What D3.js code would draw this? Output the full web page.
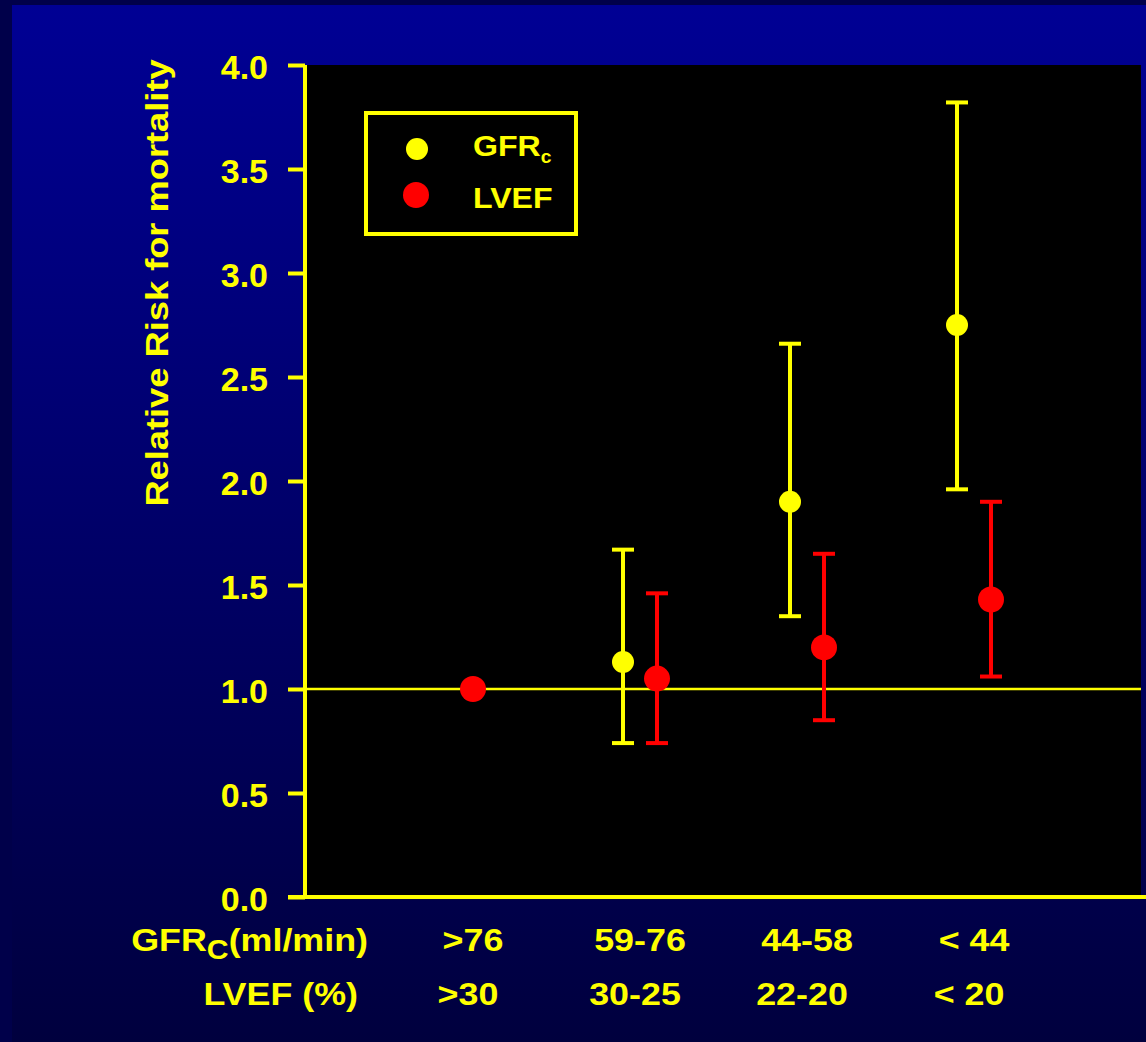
<!DOCTYPE html>
<html>
<head>
<meta charset="utf-8">
<script src="https://cdn.jsdelivr.net/npm/d3@7"></script>
<style>
  body { margin: 0; background: #000; }
  svg { display: block; font-family: "Liberation Sans", Arial, sans-serif; font-weight: bold; }
</style>
</head>
<body>
<svg id="chart"></svg>
<script>
// Data
const gfrLabels = [">76", "59-76", "44-58", "< 44"];
const lvefLabels = [">30", "30-25", "22-20", "< 20"];
const gfrValue = [null, 1.13, 1.9, 2.75];
const gfrLow = [null, 0.74, 1.35, 1.96];
const gfrHigh = [null, 1.67, 2.66, 3.82];
const lvefValue = [1.0, 1.05, 1.2, 1.43];
const lvefLow = [null, 0.74, 0.85, 1.06];
const lvefHigh = [null, 1.46, 1.65, 1.9];
const yTicks = [0, 0.5, 1, 1.5, 2, 2.5, 3, 3.5, 4];

const width = 1146, height = 1042;
const margin = { top: 65, right: 5, bottom: 145, left: 305 };
const yellow = "#ffff00", red = "#ff0000";

const svg = d3.select("#chart")
    .attr("width", width)
    .attr("height", height);

// Background gradient
const defs = svg.append("defs");
const grad = defs.append("linearGradient")
    .attr("id", "bg").attr("x1", 0).attr("y1", 0).attr("x2", 0).attr("y2", 1);
grad.append("stop").attr("offset", "0%").attr("stop-color", "#000094");
grad.append("stop").attr("offset", "100%").attr("stop-color", "#00003e");

svg.append("rect").attr("width", width).attr("height", height).attr("fill", "#00004a");
svg.append("rect").attr("x", 12).attr("y", 5).attr("width", width - 12).attr("height", height - 5)
    .attr("fill", "url(#bg)");

// Plot area
svg.append("rect")
    .attr("x", margin.left).attr("y", margin.top)
    .attr("width", width - margin.right - margin.left)
    .attr("height", height - margin.bottom - margin.top)
    .attr("fill", "#000");

// Scales
const y = d3.scaleLinear()
    .domain([0, 4])
    .range([height - margin.bottom, margin.top]);

const x = d3.scalePoint()
    .domain(gfrLabels)
    .range([473, 974]);

const offset = 17;

// Y axis
const yAxis = svg.append("g")
    .attr("transform", `translate(${margin.left},0)`)
    .call(d3.axisLeft(y).tickValues(yTicks).tickFormat(d3.format(".1f")).tickSize(17).tickPadding(20));
yAxis.select(".domain").attr("stroke", yellow).attr("stroke-width", 4)
    .attr("d", `M0,${y(4)}V${y(0)}`);
yAxis.selectAll(".tick line").attr("stroke", yellow).attr("stroke-width", 4);
yAxis.selectAll(".tick text")
    .attr("fill", yellow)
    .style("font-size", "34px")
    .style("font-family", "'Liberation Sans', Arial, sans-serif")
    .style("font-weight", "bold")
    .attr("dy", "0.4em");

// X axis baseline
svg.append("line")
    .attr("x1", margin.left - 17).attr("x2", width)
    .attr("y1", y(0)).attr("y2", y(0))
    .attr("stroke", yellow).attr("stroke-width", 4);

// Reference line at 1.0
svg.append("line")
    .attr("x1", margin.left).attr("x2", width - margin.right)
    .attr("y1", y(1)).attr("y2", y(1))
    .attr("stroke", yellow).attr("stroke-width", 2.5);

// Y axis title
svg.append("text")
    .attr("transform", "translate(168,283) rotate(-90) scale(1.17,1)")
    .attr("text-anchor", "middle")
    .attr("fill", yellow)
    .style("font-size", "31px")
    .text("Relative Risk for mortality");

// Error bars + points
function drawSeries(vals, lows, highs, color, dx, r) {
    const g = svg.append("g");
    gfrLabels.forEach((cat, i) => {
        if (vals[i] == null) return;
        const cx = x(cat) + (gfrValue[i] == null ? 0 : dx);
        if (lows[i] != null) {
            g.append("line")
                .attr("x1", cx).attr("x2", cx)
                .attr("y1", y(highs[i])).attr("y2", y(lows[i]))
                .attr("stroke", color).attr("stroke-width", 4);
            [highs[i], lows[i]].forEach(v => {
                g.append("line")
                    .attr("x1", cx - 11).attr("x2", cx + 11)
                    .attr("y1", y(v)).attr("y2", y(v))
                    .attr("stroke", color).attr("stroke-width", 4);
            });
        }
        g.append("circle")
            .attr("cx", cx).attr("cy", y(vals[i]))
            .attr("r", r).attr("fill", color);
    });
}
drawSeries(gfrValue, gfrLow, gfrHigh, yellow, -offset, 11);
drawSeries(lvefValue, lvefLow, lvefHigh, red, offset, 13);

// Category labels
svg.append("g").selectAll("text")
    .data(gfrLabels)
    .join("text")
    .attr("transform", d => `translate(${x(d)},951) scale(1.12,1)`)
    .attr("text-anchor", "middle")
    .attr("fill", yellow)
    .style("font-size", "32px")
    .text(d => d);

svg.append("g").selectAll("text")
    .data(lvefLabels)
    .join("text")
    .attr("transform", (d, i) => `translate(${x(gfrLabels[i]) - 5},1005) scale(1.12,1)`)
    .attr("text-anchor", "middle")
    .attr("fill", yellow)
    .style("font-size", "32px")
    .text(d => d);

// Row titles
const gfrTitle = svg.append("text")
    .attr("transform", "translate(368,951) scale(1.12,1)")
    .attr("text-anchor", "end")
    .attr("fill", yellow)
    .style("font-size", "32px");
gfrTitle.append("tspan").text("GFR");
gfrTitle.append("tspan").attr("dy", 8).style("font-size", "27px").text("C");
gfrTitle.append("tspan").attr("dy", -8).text("(ml/min)");

svg.append("text")
    .attr("transform", "translate(358,1005) scale(1.12,1)")
    .attr("text-anchor", "end")
    .attr("fill", yellow)
    .style("font-size", "32px")
    .text("LVEF (%)");

// Legend
const legend = svg.append("g");
legend.append("rect")
    .attr("x", 366).attr("y", 113)
    .attr("width", 210).attr("height", 121)
    .attr("fill", "none").attr("stroke", yellow).attr("stroke-width", 4);
legend.append("circle").attr("cx", 417).attr("cy", 149).attr("r", 11).attr("fill", yellow);
legend.append("circle").attr("cx", 416).attr("cy", 195).attr("r", 13).attr("fill", red);
const lt1 = legend.append("text")
    .attr("transform", "translate(473,156) scale(1.07,1)")
    .attr("fill", yellow)
    .style("font-size", "30px");
lt1.append("tspan").text("GFR");
lt1.append("tspan").attr("dy", 7).style("font-size", "18px").text("c");
legend.append("text")
    .attr("transform", "translate(473,208) scale(1.07,1)")
    .attr("fill", yellow)
    .style("font-size", "30px")
    .text("LVEF");
</script>
</body>
</html>
